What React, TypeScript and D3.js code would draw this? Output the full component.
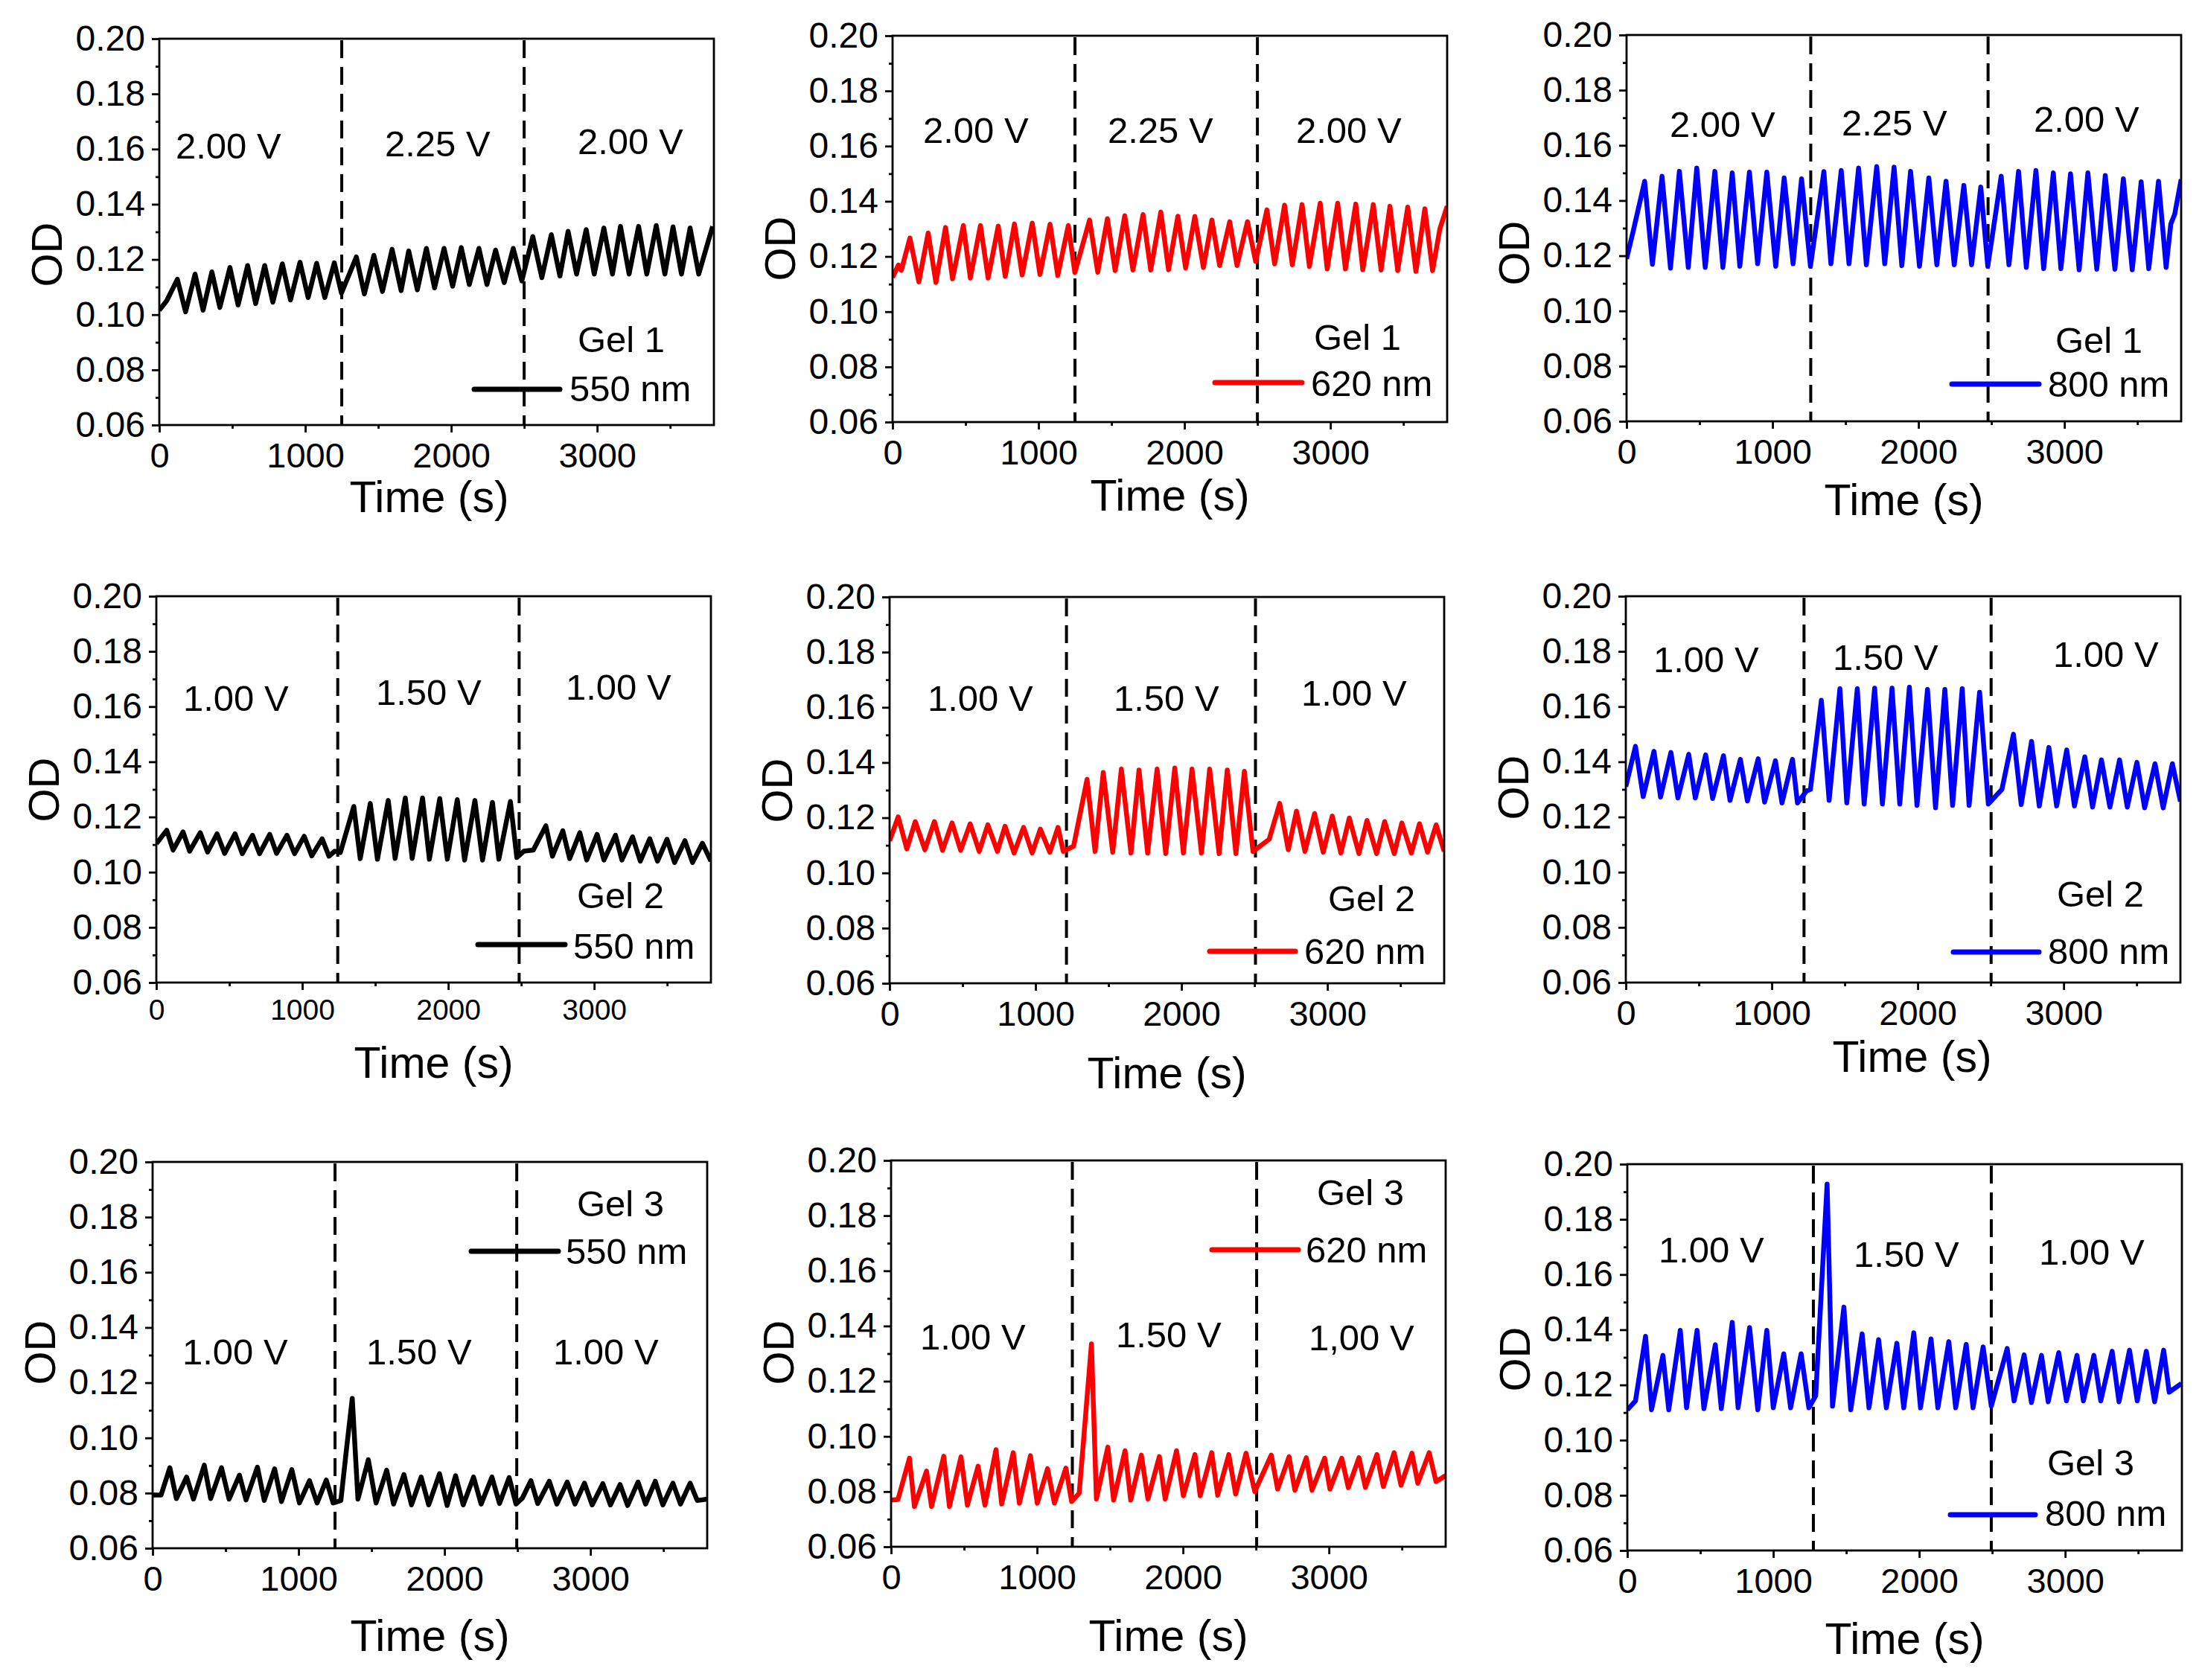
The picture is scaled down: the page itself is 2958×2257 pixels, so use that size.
import React, { useEffect, useRef } from 'react';
import * as d3 from 'd3';

type Pt = [number, number];

// axis ticks
const yTicks = [0.06, 0.08, 0.1, 0.12, 0.14, 0.16, 0.18, 0.2];
const yMinor = [0.07, 0.09, 0.11, 0.13, 0.15, 0.17, 0.19];
const xTicks = [0, 1000, 2000, 3000];
const xMinor = [500, 1500, 2500, 3500];

// Gel 1 (time s, OD) – peaks and troughs
const gel1_550: Pt[] = [[0,0.1016],[50,0.105],[124,0.1128],[180,0.101],[245,0.1147],[300,0.1016],[360,0.1155],[415,0.1026],[484,0.1171],[540,0.1035],[605,0.1178],[660,0.104],[722,0.1178],[778,0.1045],[843,0.1184],[899,0.1053],[964,0.119],[1020,0.1062],[1078,0.1186],[1134,0.1062],[1199,0.1188],[1248,0.1078],[1350,0.1209],[1405,0.1075],[1470,0.1215],[1529,0.1084],[1595,0.1237],[1657,0.1087],[1709,0.1231],[1768,0.109],[1830,0.124],[1886,0.1097],[1951,0.124],[2010,0.1103],[2069,0.1243],[2124,0.1109],[2190,0.124],[2245,0.1109],[2304,0.1234],[2363,0.1116],[2425,0.124],[2484,0.1122],[2559,0.1283],[2621,0.1134],[2686,0.129],[2745,0.114],[2801,0.1302],[2859,0.1147],[2925,0.1308],[2980,0.1147],[3046,0.1314],[3105,0.1147],[3160,0.132],[3219,0.1147],[3284,0.132],[3340,0.1147],[3405,0.1323],[3464,0.1147],[3520,0.1318],[3578,0.1147],[3637,0.1314],[3696,0.1147],[3791,0.132]];
const gel1_620: Pt[] = [[0,0.1124],[40,0.1169],[60,0.115],[119,0.1267],[180,0.1108],[244,0.1285],[297,0.1106],[363,0.1305],[411,0.1119],[485,0.1312],[533,0.1122],[602,0.1312],[655,0.1122],[724,0.131],[772,0.1128],[835,0.1318],[888,0.1133],[957,0.1321],[1010,0.1135],[1079,0.1317],[1132,0.1131],[1204,0.1312],[1249,0.1142],[1350,0.1332],[1406,0.1143],[1472,0.1337],[1525,0.1149],[1591,0.1348],[1647,0.1151],[1716,0.1352],[1769,0.1151],[1838,0.1361],[1891,0.1152],[1955,0.1346],[2008,0.1158],[2071,0.1345],[2130,0.116],[2188,0.1332],[2241,0.1167],[2310,0.1326],[2360,0.1167],[2432,0.1326],[2488,0.1182],[2565,0.1369],[2618,0.1173],[2686,0.1386],[2739,0.117],[2806,0.1388],[2856,0.1164],[2930,0.1393],[2978,0.1155],[3050,0.1393],[3103,0.1155],[3174,0.139],[3222,0.1152],[3294,0.1388],[3347,0.1151],[3408,0.1382],[3461,0.1149],[3530,0.1379],[3586,0.1146],[3647,0.1373],[3700,0.1149],[3750,0.13],[3800,0.1382]];
const gel1_800: Pt[] = [[0,0.1189],[45,0.1288],[124,0.147],[177,0.1169],[243,0.1488],[301,0.1155],[362,0.1506],[423,0.1158],[481,0.1518],[539,0.1158],[605,0.1506],[660,0.1158],[724,0.15],[776,0.1162],[842,0.1503],[898,0.1171],[961,0.1503],[1022,0.1162],[1080,0.1482],[1141,0.1171],[1199,0.1479],[1260,0.1162],[1352,0.1505],[1400,0.1171],[1471,0.1509],[1524,0.1171],[1590,0.1518],[1643,0.1167],[1714,0.1523],[1769,0.1171],[1833,0.1521],[1886,0.1164],[1946,0.1506],[2007,0.1162],[2071,0.1482],[2126,0.1167],[2189,0.147],[2245,0.1167],[2311,0.1455],[2364,0.1167],[2427,0.1449],[2475,0.1162],[2567,0.1488],[2620,0.1167],[2686,0.1506],[2739,0.1158],[2805,0.1509],[2858,0.1153],[2924,0.15],[2976,0.1153],[3042,0.1497],[3101,0.1149],[3161,0.15],[3222,0.1151],[3280,0.1491],[3346,0.1151],[3404,0.1479],[3465,0.1149],[3526,0.1468],[3578,0.1153],[3645,0.147],[3697,0.1158],[3729,0.1315],[3756,0.1351],[3800,0.1477]];

// Gel 2
const gel2_550: Pt[] = [[0,0.1103],[71,0.1152],[115,0.108],[183,0.1146],[228,0.1076],[301,0.1143],[351,0.1073],[416,0.1139],[468,0.1068],[539,0.1139],[589,0.1067],[659,0.1134],[707,0.1067],[777,0.1137],[824,0.1068],[895,0.1134],[947,0.1067],[1013,0.113],[1065,0.1059],[1136,0.1121],[1183,0.1058],[1222,0.1076],[1261,0.1071],[1353,0.1238],[1397,0.1049],[1466,0.1249],[1515,0.1047],[1589,0.126],[1636,0.105],[1706,0.1269],[1753,0.105],[1824,0.1269],[1871,0.1047],[1942,0.1267],[1994,0.1047],[2062,0.1263],[2112,0.1044],[2183,0.126],[2235,0.1044],[2303,0.1253],[2347,0.1047],[2426,0.1256],[2470,0.1053],[2518,0.1076],[2583,0.108],[2669,0.1168],[2714,0.1058],[2785,0.115],[2832,0.1049],[2902,0.1143],[2949,0.1044],[3020,0.1137],[3067,0.1044],[3146,0.1134],[3190,0.1044],[3263,0.1128],[3316,0.104],[3381,0.1121],[3434,0.104],[3499,0.1119],[3551,0.1035],[3622,0.1114],[3674,0.1035],[3742,0.1105],[3800,0.104]];
const gel2_620: Pt[] = [[0,0.1116],[59,0.1203],[118,0.1087],[176,0.1186],[242,0.1084],[307,0.1186],[363,0.1082],[428,0.1181],[487,0.1082],[552,0.1178],[614,0.1078],[673,0.1174],[739,0.1078],[791,0.1169],[853,0.1072],[918,0.1165],[977,0.1072],[1033,0.1159],[1098,0.1075],[1154,0.1165],[1190,0.1078],[1261,0.1097],[1353,0.1339],[1408,0.1078],[1464,0.1364],[1529,0.1075],[1588,0.1376],[1654,0.1072],[1709,0.1373],[1768,0.1072],[1833,0.1376],[1892,0.107],[1954,0.138],[2013,0.1072],[2072,0.1376],[2137,0.1072],[2193,0.1376],[2258,0.107],[2314,0.1373],[2373,0.107],[2431,0.1368],[2490,0.1078],[2601,0.1122],[2673,0.1252],[2732,0.1084],[2788,0.1224],[2846,0.1078],[2912,0.1215],[2971,0.1075],[3033,0.1206],[3092,0.1072],[3150,0.1199],[3216,0.107],[3271,0.119],[3337,0.107],[3392,0.1186],[3458,0.107],[3510,0.1181],[3575,0.1072],[3631,0.1178],[3686,0.1075],[3745,0.1174],[3800,0.1078]];
const gel2_800: Pt[] = [[0,0.131],[66,0.1456],[119,0.1274],[193,0.1438],[238,0.1272],[309,0.1434],[357,0.1269],[431,0.1427],[476,0.1269],[547,0.1425],[595,0.1267],[669,0.1422],[714,0.126],[785,0.1409],[833,0.1258],[907,0.1411],[951,0.1254],[1025,0.1404],[1070,0.1251],[1142,0.1409],[1176,0.1251],[1240,0.1295],[1265,0.13],[1340,0.1623],[1393,0.126],[1467,0.1665],[1514,0.1251],[1586,0.1665],[1633,0.1247],[1705,0.1667],[1758,0.1247],[1824,0.1667],[1877,0.1247],[1943,0.167],[1995,0.1242],[2067,0.1662],[2122,0.1233],[2186,0.1662],[2239,0.1242],[2305,0.1665],[2352,0.1242],[2424,0.1652],[2484,0.1247],[2577,0.13],[2656,0.15],[2709,0.1245],[2780,0.1474],[2833,0.124],[2899,0.1452],[2952,0.124],[3021,0.1443],[3074,0.124],[3145,0.1418],[3198,0.1236],[3259,0.1407],[3317,0.1236],[3383,0.1407],[3436,0.1236],[3502,0.1398],[3555,0.1233],[3626,0.1393],[3682,0.1233],[3745,0.1393],[3800,0.1256]];

// Gel 3
const gel3_550: Pt[] = [[0,0.0793],[58,0.0793],[118,0.0892],[163,0.078],[233,0.0858],[280,0.0778],[354,0.0901],[398,0.078],[472,0.0892],[524,0.0778],[595,0.0865],[640,0.0775],[718,0.0894],[765,0.0773],[836,0.0888],[883,0.0769],[954,0.0885],[1006,0.0764],[1075,0.0845],[1127,0.0764],[1190,0.0847],[1237,0.0764],[1290,0.0773],[1329,0.0962],[1368,0.1143],[1407,0.0778],[1478,0.0921],[1531,0.0764],[1604,0.0883],[1651,0.076],[1722,0.0867],[1774,0.0757],[1840,0.0858],[1892,0.0757],[1966,0.087],[2018,0.0755],[2076,0.0863],[2128,0.0757],[2199,0.0858],[2251,0.076],[2325,0.0858],[2377,0.0762],[2443,0.0856],[2490,0.076],[2534,0.0782],[2592,0.0845],[2639,0.0762],[2718,0.0843],[2770,0.076],[2841,0.084],[2894,0.076],[2959,0.0836],[3012,0.0757],[3085,0.0834],[3137,0.0757],[3203,0.0831],[3255,0.0755],[3326,0.084],[3378,0.076],[3444,0.0843],[3496,0.0757],[3565,0.0836],[3617,0.076],[3683,0.0836],[3732,0.0773],[3800,0.0778]];
const gel3_620: Pt[] = [[0,0.0769],[47,0.0771],[126,0.0921],[160,0.0746],[243,0.0874],[277,0.0746],[361,0.0928],[400,0.0746],[479,0.0926],[523,0.0751],[596,0.0892],[643,0.0751],[719,0.0952],[758,0.0755],[837,0.0941],[879,0.0758],[955,0.093],[1002,0.0758],[1072,0.0883],[1119,0.0758],[1198,0.0885],[1237,0.0764],[1289,0.0794],[1373,0.1335],[1407,0.0773],[1485,0.0961],[1525,0.0769],[1603,0.0948],[1642,0.0769],[1715,0.0932],[1760,0.0773],[1838,0.0927],[1878,0.0773],[1956,0.0948],[2003,0.0785],[2082,0.0934],[2118,0.0785],[2197,0.0941],[2238,0.0787],[2314,0.0934],[2361,0.0791],[2432,0.0939],[2492,0.08],[2605,0.0932],[2649,0.0809],[2727,0.0926],[2767,0.0805],[2845,0.0923],[2884,0.0805],[2971,0.0921],[3007,0.0809],[3088,0.0921],[3133,0.0814],[3206,0.0923],[3250,0.0815],[3329,0.0934],[3373,0.0818],[3447,0.0941],[3494,0.0823],[3569,0.0939],[3609,0.083],[3687,0.0941],[3734,0.0836],[3800,0.0858]];
const gel3_800: Pt[] = [[0,0.111],[56,0.1142],[125,0.1376],[166,0.111],[244,0.1307],[284,0.111],[363,0.1398],[406,0.1117],[478,0.1398],[525,0.1114],[603,0.1346],[644,0.1114],[719,0.1427],[759,0.1117],[838,0.1408],[894,0.111],[956,0.1398],[1000,0.1117],[1072,0.1313],[1119,0.1117],[1191,0.1313],[1244,0.1117],[1291,0.1161],[1369,0.1928],[1406,0.1123],[1484,0.1482],[1531,0.111],[1609,0.1385],[1656,0.1117],[1722,0.1364],[1775,0.1117],[1847,0.1351],[1894,0.1117],[1963,0.1389],[2009,0.1117],[2081,0.1367],[2128,0.1117],[2203,0.1357],[2250,0.1117],[2322,0.1347],[2369,0.1117],[2438,0.1338],[2494,0.1123],[2603,0.1332],[2650,0.1142],[2719,0.1309],[2769,0.1136],[2838,0.1307],[2884,0.1139],[2956,0.1317],[3009,0.1142],[3081,0.1307],[3125,0.1142],[3197,0.1307],[3244,0.1142],[3322,0.1322],[3369,0.1139],[3441,0.1326],[3494,0.1142],[3556,0.1322],[3613,0.1139],[3675,0.1326],[3713,0.1174],[3797,0.1205]];

// voltage steps and the times they switch
const voltsGel1 = ['2.00 V', '2.25 V', '2.00 V'];
const voltsGel2 = ['1.00 V', '1.50 V', '1.00 V'];
const voltsGel3 = ['1.00 V', '1.50 V', '1.00 V'];
const voltsGel3_620 = ['1.00 V', '1.50 V', '1,00 V'];
const switches = {
  g1_550: [1250, 2500], g1_620: [1250, 2500], g1_800: [1262, 2477],
  g2_550: [1243, 2486], g2_620: [1212, 2507], g2_800: [1221, 2503],
  g3_550: [1250, 2495], g3_620: [1242, 2505], g3_800: [1275, 2494],
};

const FONT = '"Liberation Sans", Arial, Helvetica, sans-serif';
const W = 745;
const H = 519;
const BLACK = '#000000';
const RED = '#ff0000';
const BLUE = '#0000ff';

interface PanelCfg {
  id: string;
  data: Pt[];
  color: string;
  gel: string;
  wl: string;
  volts: string[];
  sw: number[];
  left: number;
  top: number;
  voltPos: [number, number][];
  gelPos: [number, number];
  legLine: [number, number, number];
  nmPos: [number, number];
  odY: number;
  timeDy: number;
  timeDx: number;
  smallX?: boolean;
}

const panels: PanelCfg[] = [
  { id: 'a', data: gel1_550, color: BLACK, gel: 'Gel 1', wl: '550 nm', volts: voltsGel1, sw: switches.g1_550,
    left: 214, top: 52, voltPos: [[236, 213], [517, 210], [776, 207]], gelPos: [776, 473], legLine: [637, 752, 523], nmPos: [765, 539], odY: 342, timeDy: 117, timeDx: -10 },
  { id: 'b', data: gel1_620, color: RED, gel: 'Gel 1', wl: '620 nm', volts: voltsGel1, sw: switches.g1_620,
    left: 1199, top: 48, voltPos: [[1240, 192], [1488, 192], [1741, 192]], gelPos: [1765, 470], legLine: [1632, 1749, 514], nmPos: [1761, 532], odY: 334, timeDy: 119, timeDx: 0 },
  { id: 'c', data: gel1_800, color: BLUE, gel: 'Gel 1', wl: '800 nm', volts: voltsGel1, sw: switches.g1_800,
    left: 2185, top: 47, voltPos: [[2243, 184], [2474, 182], [2732, 177]], gelPos: [2761, 474], legLine: [2622, 2739, 516], nmPos: [2751, 533], odY: 340, timeDy: 126, timeDx: 0 },
  { id: 'd', data: gel2_550, color: BLACK, gel: 'Gel 2', wl: '550 nm', volts: voltsGel2, sw: switches.g2_550,
    left: 210, top: 801, voltPos: [[246, 955], [505, 947], [760, 940]], gelPos: [775, 1220], legLine: [642, 759, 1269], nmPos: [770, 1288], odY: 1061, timeDy: 128, timeDx: 0, smallX: true },
  { id: 'e', data: gel2_620, color: RED, gel: 'Gel 2', wl: '620 nm', volts: voltsGel2, sw: switches.g2_620,
    left: 1195, top: 802, voltPos: [[1246, 955], [1496, 955], [1748, 948]], gelPos: [1784, 1224], legLine: [1625, 1740, 1278], nmPos: [1752, 1295], odY: 1062, timeDy: 141, timeDx: 0 },
  { id: 'f', data: gel2_800, color: BLUE, gel: 'Gel 2', wl: '800 nm', volts: voltsGel2, sw: switches.g2_800,
    left: 2184, top: 801, voltPos: [[2221, 903], [2462, 900], [2758, 896]], gelPos: [2763, 1218], legLine: [2624, 2739, 1279], nmPos: [2751, 1295], odY: 1058, timeDy: 120, timeDx: 12 },
  { id: 'g', data: gel3_550, color: BLACK, gel: 'Gel 3', wl: '550 nm', volts: voltsGel3, sw: switches.g3_550,
    left: 205, top: 1561, voltPos: [[245, 1833], [492, 1833], [743, 1833]], gelPos: [775, 1634], legLine: [633, 750, 1681], nmPos: [760, 1698], odY: 1817, timeDy: 138, timeDx: 0 },
  { id: 'h', data: gel3_620, color: RED, gel: 'Gel 3', wl: '620 nm', volts: voltsGel3_620, sw: switches.g3_620,
    left: 1197, top: 1559, voltPos: [[1236, 1813], [1499, 1810], [1758, 1814]], gelPos: [1769, 1619], legLine: [1628, 1744, 1679], nmPos: [1754, 1696], odY: 1817, timeDy: 140, timeDx: 0 },
  { id: 'i', data: gel3_800, color: BLUE, gel: 'Gel 3', wl: '800 nm', volts: voltsGel3, sw: switches.g3_800,
    left: 2186, top: 1564, voltPos: [[2228, 1696], [2490, 1702], [2739, 1699]], gelPos: [2750, 1982], legLine: [2620, 2734, 2035], nmPos: [2747, 2050], odY: 1826, timeDy: 139, timeDx: 0 },
];

const Panel: React.FC<{ cfg: PanelCfg }> = ({ cfg }) => {
  const ref = useRef<SVGGElement>(null);

  useEffect(() => {
    const g = d3.select(ref.current);
    g.selectAll('*').remove();

    const x = d3.scaleLinear().domain([0, 3800]).range([cfg.left, cfg.left + W]);
    const y = d3.scaleLinear().domain([0.06, 0.2]).range([cfg.top + H, cfg.top]);
    const bottom = cfg.top + H;

    const clipId = 'clip-' + cfg.id;
    g.append('clipPath').attr('id', clipId)
      .append('rect')
      .attr('x', cfg.left).attr('y', cfg.top).attr('width', W).attr('height', H);

    // voltage switch markers
    g.selectAll('line.sw')
      .data(cfg.sw)
      .enter()
      .append('line')
      .attr('class', 'sw')
      .attr('x1', (d) => x(d)).attr('x2', (d) => x(d))
      .attr('y1', cfg.top + 2).attr('y2', bottom)
      .attr('stroke', BLACK)
      .attr('stroke-width', 4)
      .attr('stroke-dasharray', '24 12');

    // trace
    const line = d3.line<Pt>().x((d) => x(d[0])).y((d) => y(d[1]));
    g.append('path')
      .datum(cfg.data)
      .attr('d', line)
      .attr('fill', 'none')
      .attr('stroke', cfg.color)
      .attr('stroke-width', 6.5)
      .attr('stroke-linejoin', 'round')
      .attr('clip-path', `url(#${clipId})`);

    // axes
    const yAxis = d3.axisLeft(y).tickValues(yTicks).tickSize(10).tickPadding(9).tickFormat(d3.format('.2f'));
    const yAxisMinor = d3.axisLeft(y).tickValues(yMinor).tickSize(5).tickFormat(() => '');
    const xAxis = d3.axisBottom(x).tickValues(xTicks).tickSize(10)
      .tickPadding(cfg.smallX ? 12 : 14).tickFormat(d3.format('d'));
    const xAxisMinor = d3.axisBottom(x).tickValues(xMinor).tickSize(5).tickFormat(() => '');

    const styleAxis = (sel: d3.Selection<SVGGElement, unknown, null, undefined>, size: number) => {
      sel.select('.domain').remove();
      sel.attr('font-family', FONT).attr('font-size', size);
      sel.selectAll('line').attr('stroke', BLACK).attr('stroke-width', 2.8);
      sel.selectAll('text').attr('fill', BLACK);
    };

    g.append('g').attr('transform', `translate(${cfg.left},0)`).call(yAxis).call((s) => styleAxis(s, 48));
    g.append('g').attr('transform', `translate(${cfg.left},0)`).call(yAxisMinor).call((s) => styleAxis(s, 48));
    g.append('g').attr('transform', `translate(0,${bottom})`).call(xAxis).call((s) => styleAxis(s, cfg.smallX ? 39 : 47));
    g.append('g').attr('transform', `translate(0,${bottom})`).call(xAxisMinor).call((s) => styleAxis(s, 47));

    // frame
    g.append('rect')
      .attr('x', cfg.left).attr('y', cfg.top).attr('width', W).attr('height', H)
      .attr('fill', 'none').attr('stroke', BLACK).attr('stroke-width', 2.8);

    // axis titles
    g.append('text')
      .attr('x', cfg.left + W / 2 + cfg.timeDx)
      .attr('y', bottom + cfg.timeDy)
      .attr('text-anchor', 'middle')
      .attr('font-family', FONT).attr('font-size', 59)
      .text('Time (s)');

    g.append('text')
      .attr('transform', `translate(${cfg.left - 131},${cfg.odY}) rotate(-90)`)
      .attr('text-anchor', 'middle')
      .attr('font-family', FONT).attr('font-size', 58)
      .text('OD');

    // voltage labels
    g.selectAll('text.volt')
      .data(cfg.volts)
      .enter()
      .append('text')
      .attr('class', 'volt')
      .attr('x', (d, i) => cfg.voltPos[i][0])
      .attr('y', (d, i) => cfg.voltPos[i][1])
      .attr('font-family', FONT).attr('font-size', 49)
      .text((d) => d);

    // legend
    g.append('text')
      .attr('x', cfg.gelPos[0]).attr('y', cfg.gelPos[1])
      .attr('font-family', FONT).attr('font-size', 49)
      .text(cfg.gel);
    g.append('line')
      .attr('x1', cfg.legLine[0]).attr('x2', cfg.legLine[1])
      .attr('y1', cfg.legLine[2]).attr('y2', cfg.legLine[2])
      .attr('stroke', cfg.color).attr('stroke-width', 7).attr('stroke-linecap', 'round');
    g.append('text')
      .attr('x', cfg.nmPos[0]).attr('y', cfg.nmPos[1])
      .attr('font-family', FONT).attr('font-size', 49)
      .text(cfg.wl);
    // eslint-disable-next-line
  }, [cfg]);

  return <g ref={ref}></g>;
};

const App: React.FC = () => {
  return (
    <div style={{ position: 'absolute', left: 0, top: 0 }}>
      <svg width={2958} height={2257} style={{ display: 'block', background: '#ffffff' }}>
        <rect x={0} y={0} width={2958} height={2257} fill="#ffffff" />
        {panels.map((p) => (
          <Panel key={p.id} cfg={p} />
        ))}
      </svg>
    </div>
  );
};

export default App;
